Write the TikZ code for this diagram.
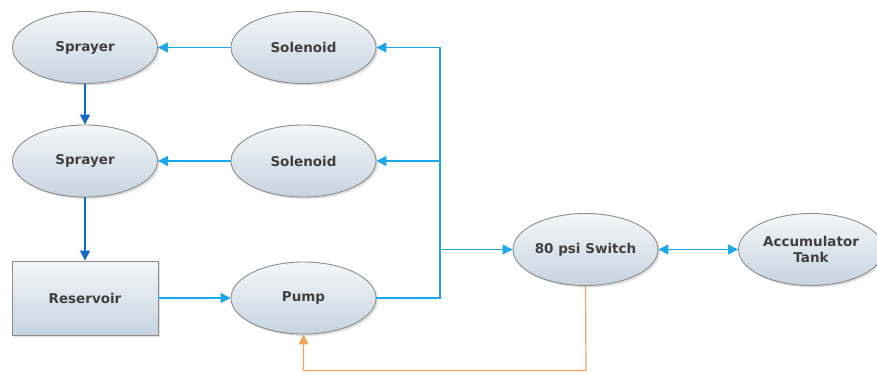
\documentclass[tikz,border=0pt]{standalone}
\usepackage{fontspec}
\setmainfont{DejaVu Sans}
\usetikzlibrary{shapes.geometric,arrows.meta,shadows}
\definecolor{fillTop}{HTML}{F4F6F9}
\definecolor{fillBot}{HTML}{C6D4E0}
\definecolor{bord}{HTML}{8C8C8C}
\definecolor{cyline}{HTML}{1AA7EC}
\definecolor{dbline}{HTML}{1668C4}
\definecolor{orline}{HTML}{F5A35C}
\definecolor{txt}{HTML}{404040}
\tikzset{
  base/.style={draw=bord, line width=0.9pt, top color=fillTop, bottom color=fillBot,
    text=txt, font=\fontsize{13.5}{16}\selectfont\bfseries, align=center, inner sep=0pt,
    drop shadow={shadow xshift=2pt, shadow yshift=-2pt, opacity=0.25}},
  ell/.style={base, ellipse, minimum width=145pt, minimum height=72pt},
  box/.style={base, rectangle, minimum width=146pt, minimum height=74pt},
  cy/.style={draw=cyline, line width=1.2pt},
  db/.style={draw=dbline, line width=1.2pt},
  orl/.style={draw=orline, line width=1.2pt},
  tip/.style={-{Triangle[length=10pt,width=10pt]}},
  tips/.style={{Triangle[length=10pt,width=10pt]}-{Triangle[length=10pt,width=10pt]}}
}
\begin{document}
\begin{tikzpicture}[x=1pt,y=-1pt]
\useasboundingbox (0,0) rectangle (877,372);
\node[ell] (spr1) at (85,47.5) {Sprayer};
\node[ell] (sol1) at (303.5,47.5) {Solenoid};
\node[ell] (spr2) at (85,161) {Sprayer};
\node[ell] (sol2) at (303.5,161) {Solenoid};
\node[box] (res) at (85,298) {Reservoir};
\node[ell] (pump) at (303.5,298) {Pump};
\node[ell] (sw) at (585.5,249.5) {80 psi Switch};
\node[ell] (acc) at (811,249.5) {Accumulator\\Tank};
\coordinate (jt) at (440,47.5);
\coordinate (ob) at (586,370.5);
\draw[cy,tip] (sol1.west) -- (spr1.east);
\draw[cy,tip] (sol2.west) -- (spr2.east);
\draw[db,tip] (spr1.south) -- (spr2.north);
\draw[db,tip] (spr2.south) -- (res.north);
\draw[cy,tip] (res.east) -- (pump.west);
\draw[cy,tip] (pump.east) -| (jt) -- (sol1.east);
\draw[cy,tip] (sol2.east -| jt) -- (sol2.east);
\draw[cy,tip] (sw.west -| jt) -- (sw.west);
\draw[cy,tips] (sw.east) -- (acc.west);
\draw[orl,tip] (sw.south) -- (ob) -| (pump.south);
\end{tikzpicture}
\end{document}
